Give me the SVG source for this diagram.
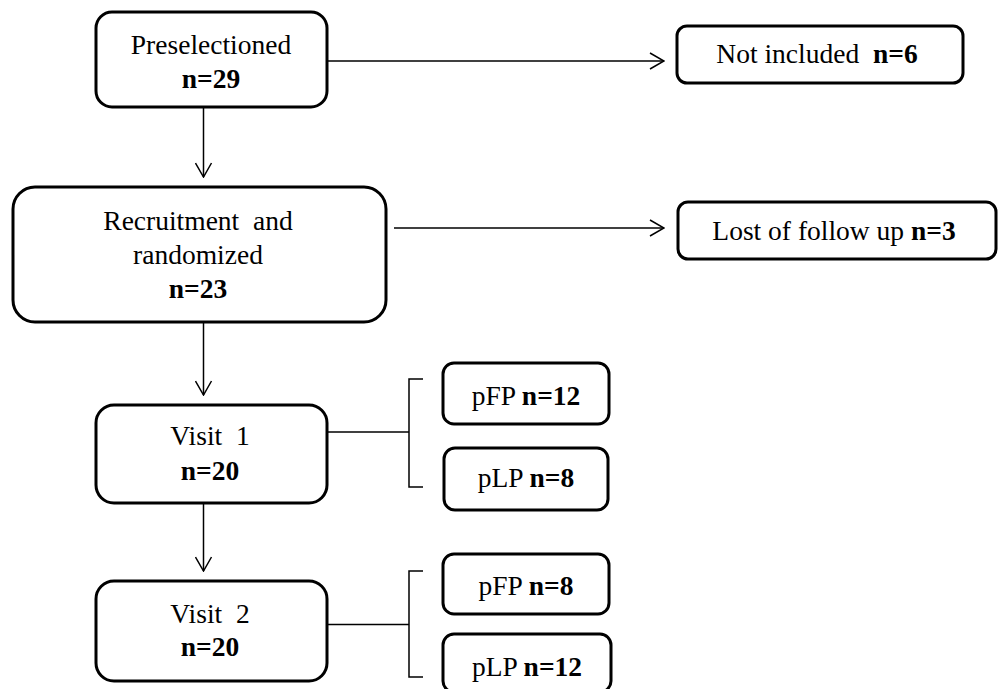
<svg xmlns="http://www.w3.org/2000/svg" width="998" height="689" viewBox="0 0 998 689">
<defs>
<style>
.box{fill:#fff;stroke:#000;stroke-width:3}
.ln{fill:none;stroke:#000;stroke-width:1.5}
text{font-family:"Liberation Serif","Times New Roman",serif;font-size:27.5px;fill:#000;text-anchor:middle;white-space:pre}
.b{font-weight:bold}
</style>
<marker id="ah" viewBox="0 0 16 18" refX="15" refY="9" markerWidth="16" markerHeight="18" markerUnits="userSpaceOnUse" orient="auto">
<path d="M1,1 L15,9 L1,17" fill="none" stroke="#000" stroke-width="1.5"/>
</marker>
</defs>
<g id="connectors">
<line class="ln" x1="327" y1="61" x2="664" y2="61" marker-end="url(#ah)"/>
<line class="ln" x1="394" y1="228" x2="664" y2="228" marker-end="url(#ah)"/>
<line class="ln" x1="203.5" y1="108" x2="203.5" y2="177" marker-end="url(#ah)"/>
<line class="ln" x1="203.5" y1="322" x2="203.5" y2="395" marker-end="url(#ah)"/>
<line class="ln" x1="203.5" y1="503" x2="203.5" y2="571" marker-end="url(#ah)"/>
<line class="ln" x1="327" y1="432" x2="409" y2="432"/>
<path class="ln" d="M423,379 H409 V487 H423"/>
<line class="ln" x1="327" y1="624.5" x2="409" y2="624.5"/>
<path class="ln" d="M423,571 H409 V677 H423"/>
</g>
<g id="preselectioned">
<rect class="box" x="96" y="12" width="231" height="95" rx="16"/>
<text x="211" y="54">Preselectioned</text>
<text class="b" x="211" y="88">n=29</text>
</g>
<g id="not-included">
<rect class="box" x="677" y="26" width="286" height="57" rx="10"/>
<text x="817" y="63" xml:space="preserve">Not included  <tspan class="b">n=6</tspan></text>
</g>
<g id="recruitment">
<rect class="box" x="13" y="187" width="373" height="135" rx="22"/>
<text x="198" y="230" xml:space="preserve">Recruitment  and</text>
<text x="198" y="264">randomized</text>
<text class="b" x="198" y="298">n=23</text>
</g>
<g id="lost">
<rect class="box" x="678" y="202" width="318" height="57" rx="10"/>
<text x="834" y="240">Lost of follow up <tspan class="b">n=3</tspan></text>
</g>
<g id="visit1">
<rect class="box" x="96" y="405" width="231" height="98" rx="18"/>
<text x="210" y="445" xml:space="preserve">Visit  1</text>
<text class="b" x="210" y="480">n=20</text>
</g>
<g id="pfp1">
<rect class="box" x="443" y="363" width="166" height="61" rx="11"/>
<text x="526" y="405">pFP <tspan class="b">n=12</tspan></text>
</g>
<g id="plp1">
<rect class="box" x="444" y="448" width="164" height="62" rx="11"/>
<text x="526" y="487">pLP <tspan class="b">n=8</tspan></text>
</g>
<g id="visit2">
<rect class="box" x="96" y="581" width="231" height="100" rx="18"/>
<text x="210" y="623" xml:space="preserve">Visit  2</text>
<text class="b" x="210" y="656">n=20</text>
</g>
<g id="pfp2">
<rect class="box" x="443" y="554" width="166" height="60" rx="11"/>
<text x="526" y="595">pFP <tspan class="b">n=8</tspan></text>
</g>
<g id="plp2">
<rect class="box" x="443" y="634" width="168" height="58" rx="11"/>
<text x="527" y="676">pLP <tspan class="b">n=12</tspan></text>
</g>
</svg>
